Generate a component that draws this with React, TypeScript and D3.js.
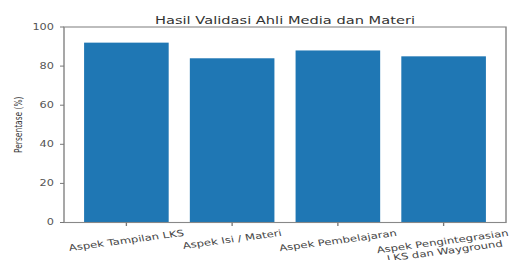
import React, { useEffect, useRef } from "react";
import * as d3 from "d3";

const categories: string[][] = [
  ["Aspek Tampilan LKS"],
  ["Aspek Isi / Materi"],
  ["Aspek Pembelajaran"],
  ["Aspek Pengintegrasian", "LKS dan Wayground"],
];
const values: number[] = [92, 84, 88, 85];
const yTicks: number[] = [0, 20, 40, 60, 80, 100];
const title = "Hasil Validasi Ahli Media dan Materi";
const yLabel = "Persentase (%)";

const WIDTH = 509;
const HEIGHT = 260;
const SX = 1.33; // horizontal stretch of the original picture
const FONT = "'DejaVu Sans', sans-serif";

export default function App() {
  const ref = useRef<SVGSVGElement | null>(null);

  useEffect(() => {
    const svg = d3.select(ref.current);
    svg.selectAll("*").remove();
    const g = svg.append("g").attr("transform", `scale(${SX},1)`);

    const left = 64 / SX;
    const right = 506 / SX;
    const top = 27;
    const bottom = 222.5;

    const x = d3.scaleLinear().domain([-0.59, 3.59]).range([left, right]);
    const y = d3.scaleLinear().domain([0, 100]).range([bottom, top]);
    const barW = 0.8;

    // bars
    g.selectAll("rect.bar")
      .data(values)
      .enter()
      .append("rect")
      .attr("class", "bar")
      .attr("x", (_, i) => x(i - barW / 2))
      .attr("width", (_, i) => x(i + barW / 2) - x(i - barW / 2))
      .attr("y", (d) => y(d))
      .attr("height", (d) => y(0) - y(d))
      .attr("fill", "#1f77b4");

    // spines
    g.append("rect")
      .attr("x", left)
      .attr("y", top)
      .attr("width", right - left)
      .attr("height", bottom - top)
      .attr("fill", "none")
      .attr("stroke", "#888")
      .attr("stroke-width", 1.1);

    // y ticks
    const tickLen = 3;
    yTicks.forEach((t) => {
      g.append("line")
        .attr("x1", left - tickLen)
        .attr("x2", left)
        .attr("y1", y(t))
        .attr("y2", y(t))
        .attr("stroke", "#777")
        .attr("stroke-width", 1);
      g.append("text")
        .attr("x", left - tickLen - 4.5)
        .attr("y", y(t))
        .attr("dy", "0.35em")
        .attr("text-anchor", "end")
        .attr("font-family", FONT)
        .attr("font-size", 8.5)
        .attr("fill", "#555")
        .text(String(t));
    });

    // x ticks + rotated labels
    const angle = 10;
    const rad = (angle * Math.PI) / 180;
    const fs = 8.8;
    const lh = fs * 1.1;
    categories.forEach((lines, i) => {
      const cx = x(i);
      g.append("line")
        .attr("x1", cx)
        .attr("x2", cx)
        .attr("y1", bottom)
        .attr("y2", bottom + 3.5)
        .attr("stroke", "#777")
        .attr("stroke-width", 1);
      const t = g
        .append("text")
        .attr("font-family", FONT)
        .attr("font-size", fs)
        .attr("fill", "#444")
        .attr("text-anchor", "middle");
      const n = lines.length;
      lines.forEach((ln, k) => {
        t.append("tspan")
          .attr("x", 0)
          .attr("y", (k - (n - 1) / 2) * lh)
          .attr("dy", "0.35em")
          .text(ln);
      });
      let w = 0;
      t.selectAll<SVGTSpanElement, unknown>("tspan").each(function () {
        w = Math.max(w, this.getComputedTextLength());
      });
      const h = n * lh;
      const H = w * Math.sin(rad) + h * Math.cos(rad);
      const labelTop = bottom + 5.5;
      t.attr("transform", `translate(${cx},${labelTop + H / 2}) rotate(${-angle})`);
    });

    // title
    g.append("text")
      .attr("x", (left + right) / 2)
      .attr("y", 24)
      .attr("text-anchor", "middle")
      .attr("font-family", FONT)
      .attr("font-size", 11)
      .attr("fill", "#333")
      .text(title);

    // y label
    g.append("text")
      .attr("transform", `translate(${19 / SX},${(top + bottom) / 2}) rotate(-90)`)
      .attr("text-anchor", "middle")
      .attr("dy", "0.35em")
      .attr("font-family", FONT)
      .attr("font-size", 7.5)
      .attr("fill", "#333")
      .text(yLabel);
  }, []);

  return (
    <svg
      ref={ref}
      width={WIDTH}
      height={HEIGHT}
      style={{ position: "fixed", left: 0, top: 0, background: "#fff" }}
    />
  );
}
